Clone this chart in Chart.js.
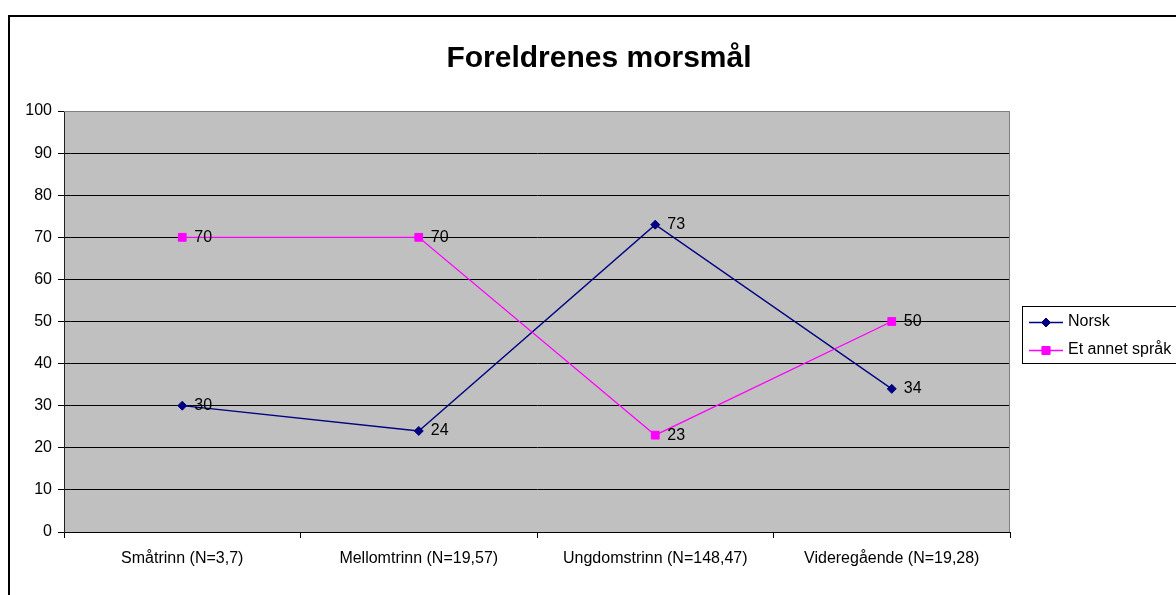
<!DOCTYPE html>
<html>
<head>
<meta charset="utf-8">
<script src="https://cdn.jsdelivr.net/npm/chart.js@4"></script>
<style>
  html, body { margin: 0; padding: 0; background: #fff; }
  #wrap { width: 1176px; height: 595px; }
</style>
</head>
<body>
<div id="wrap"><canvas id="chartMorsmal" width="1176" height="595"></canvas></div>
<script>
const kategorier = ['Småtrinn (N=3,7)', 'Mellomtrinn (N=19,57)', 'Ungdomstrinn (N=148,47)', 'Videregående (N=19,28)'];
const norsk = [30, 24, 73, 34];
const annetSprak = [70, 70, 23, 50];
const serieNavn = ['Norsk', 'Et annet språk'];
const tittel = 'Foreldrenes morsmål';

const FONT = '"Liberation Sans", Arial, sans-serif';

// ramme, tittel, verdier og forklaring tegnes her
const tegnEkstra = {
    id: 'tegnEkstra',
    beforeDraw(chart) {
        const ctx = chart.ctx;
        const a = chart.chartArea;
        ctx.save();
        ctx.fillStyle = '#fff';
        ctx.fillRect(0, 0, chart.width, chart.height);
        ctx.fillStyle = '#c0c0c0';
        ctx.fillRect(a.left, a.top, a.right - a.left, a.bottom - a.top);
        ctx.strokeStyle = '#000';
        ctx.lineWidth = 2;
        ctx.strokeRect(9, 16, 1300, 700);
        ctx.restore();
    },
    afterDatasetsDraw(chart) {
        const ctx = chart.ctx;
        const a = chart.chartArea;
        ctx.save();
        // grå kant topp og høyre
        ctx.strokeStyle = '#808080';
        ctx.lineWidth = 1;
        ctx.beginPath();
        ctx.moveTo(a.left, a.top + 0.5);
        ctx.lineTo(a.right - 0.5, a.top + 0.5);
        ctx.lineTo(a.right - 0.5, a.bottom);
        ctx.stroke();

        // verdier
        ctx.font = '16px ' + FONT;
        ctx.fillStyle = '#000';
        ctx.textAlign = 'left';
        ctx.textBaseline = 'middle';
        chart.data.datasets.forEach((ds, i) => {
            chart.getDatasetMeta(i).data.forEach((pt, j) => {
                ctx.fillText(String(ds.data[j]), pt.x + 12, pt.y);
            });
        });

        // tittel
        ctx.font = 'bold 30px ' + FONT;
        ctx.textAlign = 'center';
        ctx.textBaseline = 'alphabetic';
        ctx.fillText(tittel, 599, 67);

        // forklaring
        ctx.strokeStyle = '#000';
        ctx.lineWidth = 1;
        ctx.strokeRect(1022.5, 306.5, 300, 57);
        const rader = [322, 350];
        chart.data.datasets.forEach((ds, i) => {
            const y = rader[i];
            ctx.strokeStyle = ds.borderColor;
            ctx.fillStyle = ds.borderColor;
            ctx.lineWidth = ds.borderWidth;
            ctx.beginPath();
            ctx.moveTo(1029, y + 0.5);
            ctx.lineTo(1063, y + 0.5);
            ctx.stroke();
            ctx.lineWidth = 1;
            Chart.helpers.drawPoint(ctx, {pointStyle: ds.pointStyle, radius: ds.pointRadius, borderWidth: 1}, 1046, y + 0.5);
            ctx.fill();
            ctx.stroke();
            ctx.fillStyle = '#000';
            ctx.font = '16px ' + FONT;
            ctx.textAlign = 'left';
            ctx.textBaseline = 'middle';
            ctx.fillText(ds.label, 1068, y);
        });
        ctx.restore();
    }
};

new Chart(document.getElementById('chartMorsmal'), {
    type: 'line',
    data: {
        labels: kategorier,
        datasets: [{
            label: serieNavn[0],
            data: norsk,
            borderColor: '#000080',
            backgroundColor: '#000080',
            borderWidth: 1.3,
            pointStyle: 'rectRot',
            pointRadius: 4.5,
            pointBorderWidth: 1,
            tension: 0,
            order: 1
        }, {
            label: serieNavn[1],
            data: annetSprak,
            borderColor: '#ff00ff',
            backgroundColor: '#ff00ff',
            borderWidth: 1.3,
            pointStyle: 'rect',
            pointRadius: 5.5,
            pointBorderWidth: 1,
            tension: 0,
            order: 0
        }]
    },
    options: {
        responsive: false,
        animation: false,
        devicePixelRatio: 1,
        layout: { padding: { left: 0, top: 111, right: 166, bottom: 0 } },
        plugins: {
            legend: { display: false },
            title: { display: false },
            tooltip: { enabled: false }
        },
        scales: {
            x: {
                offset: true,
                grid: {
                    offset: true,
                    drawOnChartArea: false,
                    drawTicks: true,
                    tickLength: 6,
                    color: '#000'
                },
                border: { display: true, color: '#000' },
                ticks: {
                    font: { family: FONT, size: 16 },
                    color: '#000',
                    padding: 11,
                    maxRotation: 0,
                    autoSkip: false
                },
                afterFit(scale) { scale.height = 63; }
            },
            y: {
                min: 0,
                max: 100,
                ticks: {
                    stepSize: 10,
                    font: { family: FONT, size: 16 },
                    color: '#000',
                    padding: 6
                },
                grid: {
                    color: (c) => c.tick && c.tick.value === 100 ? '#808080' : '#000',
                    tickColor: '#000',
                    tickLength: 6
                },
                border: { display: true, color: '#222' },
                afterFit(scale) { scale.width = 64; }
            }
        }
    },
    plugins: [tegnEkstra]
});
</script>
</body>
</html>
